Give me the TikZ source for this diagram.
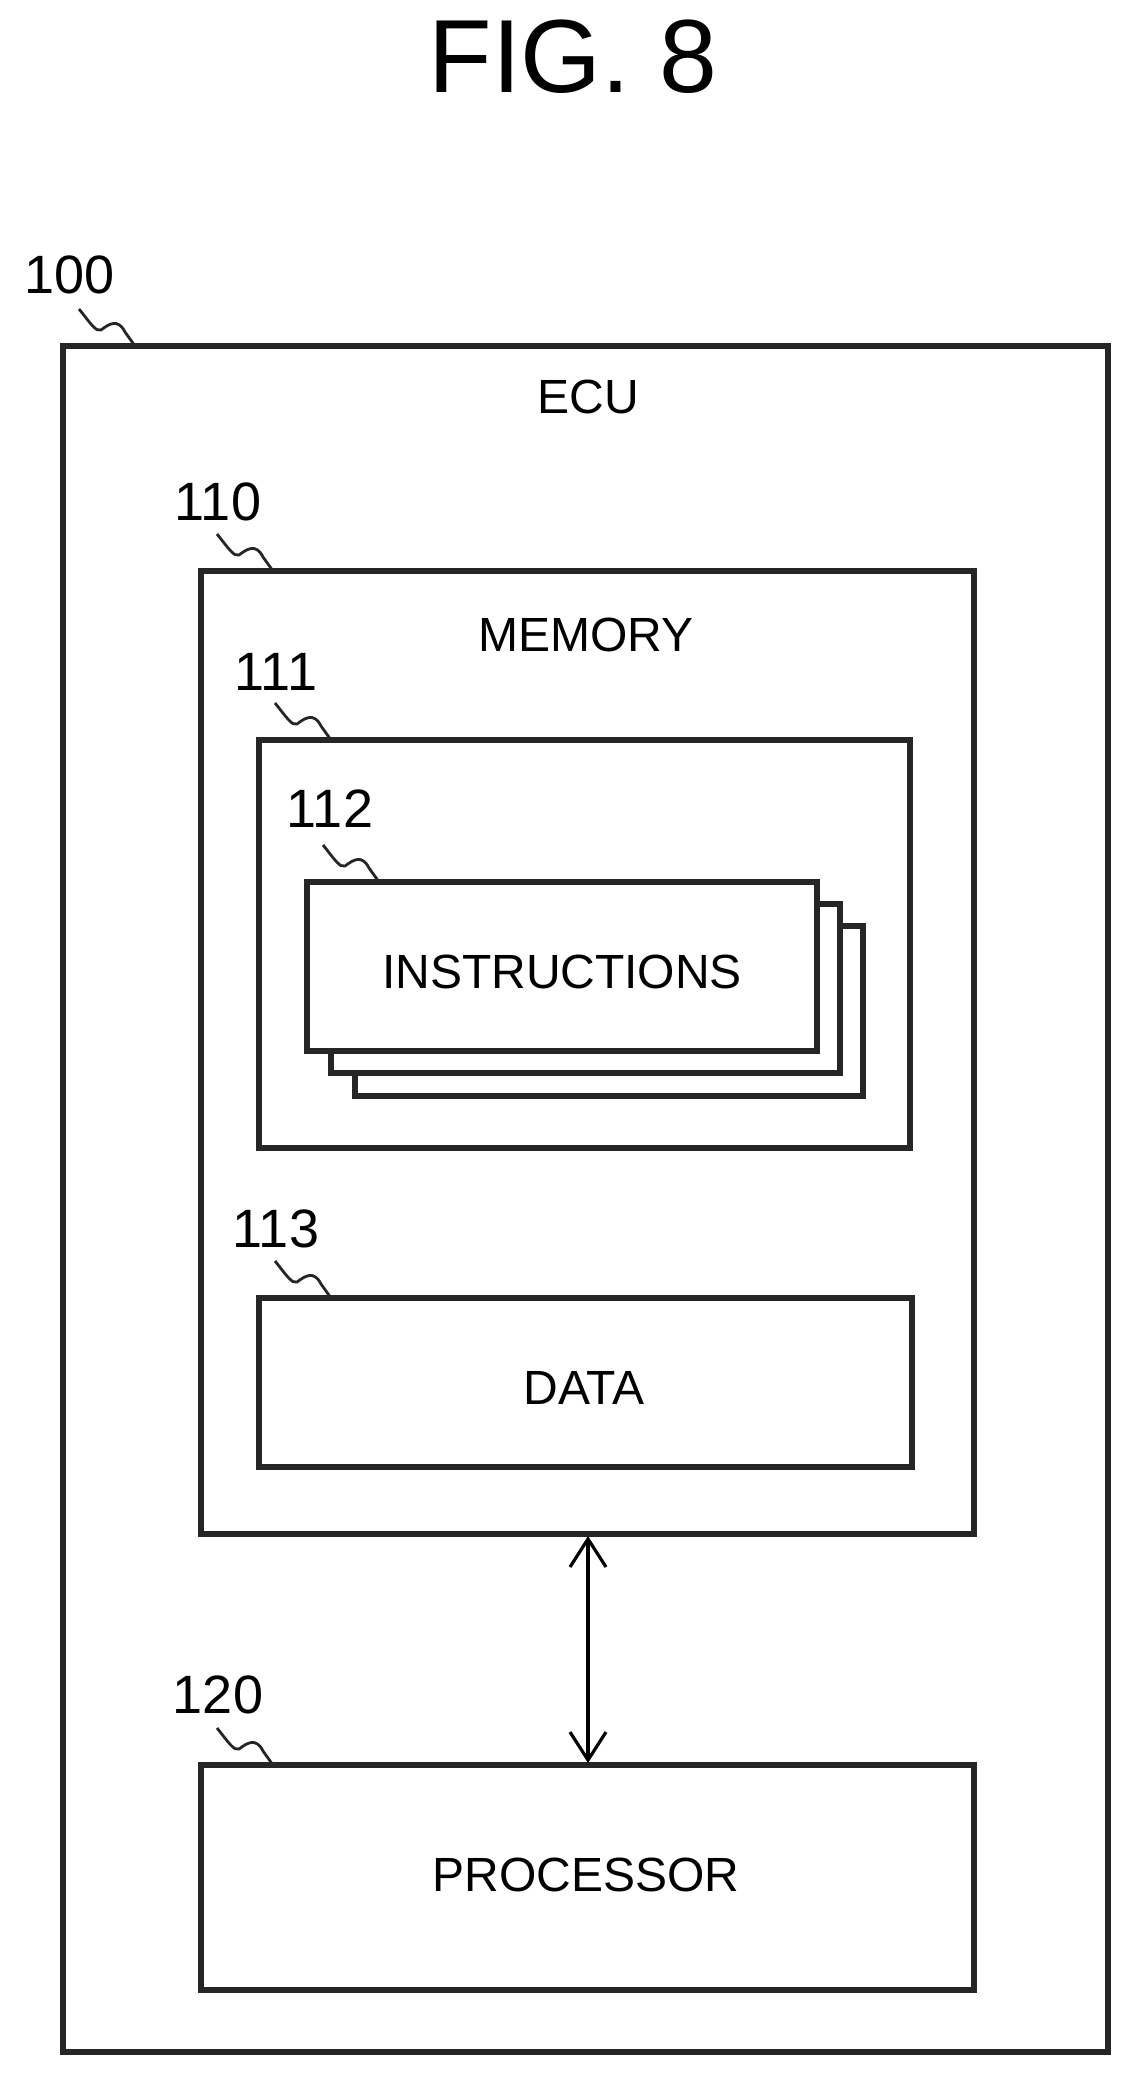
\documentclass[tikz,border=0pt]{standalone}
\usepackage{fontspec}
\setmainfont{Liberation Sans}
\usetikzlibrary{arrows.meta}
\begin{document}
\begin{tikzpicture}[x=0.5pt,y=-0.5pt,
  box/.style={draw=black!85,line width=2.6pt},
  lbl/.style={font=\fontsize{27}{30}\selectfont,anchor=center},
  txt/.style={font=\fontsize{24}{28}\selectfont,anchor=center},
  lead/.style={line width=1.4pt,black!85}]
\useasboundingbox (0,0) rectangle (1137,2082);
\node[font=\fontsize{52}{56}\selectfont] (title) at (573,57) {FIG. 8};
% outer
\draw[box] (63,346) coordinate (c100) rectangle (1108,2052);
\node[lbl] (l100) at (70,275) {100};
\node[txt] (ecu) at (588,397) {ECU};
% memory
\draw[box] (201,571) coordinate (c110) rectangle (974,1534);
\node[lbl] (l110) at (218,502) {110};
\node[txt] (mem) at (586,635) {MEMORY};
% 111
\draw[box] (259,740) coordinate (c111) rectangle (910,1148);
\node[lbl] (l111) at (276,672) {111};
% instructions stack
\draw[box,fill=white] (355,926) rectangle (863,1096);
\draw[box,fill=white] (331,904) rectangle (840,1073);
\draw[box,fill=white] (307,882) coordinate (c112) rectangle (817,1051);
\node[lbl] (l112) at (330,809) {112};
\node[txt] (ins) at (562,972) {INSTRUCTIONS};
% data
\draw[box] (259,1298) coordinate (c113) rectangle (912,1467);
\node[lbl] (l113) at (276,1229) {113};
\node[txt] (data) at (584,1388) {DATA};
% processor
\draw[box] (201,1765) coordinate (c120) rectangle (974,1990);
\node[lbl] (l120) at (218,1695) {120};
\node[txt] (proc) at (586,1875) {PROCESSOR};
% arrow
\coordinate (a1) at (588,1536);
\coordinate (a2) at (588,1763);
\draw[line width=1.6pt,{Straight Barb[length=14pt,width=18pt]}-{Straight Barb[length=14pt,width=18pt]}] (a1) -- (a2);
% leaders
\foreach \c in {c100,c110,c111,c112,c113,c120}{
  \draw[lead] ([shift={(16,-37)}]\c) .. controls ([shift={(28,-22)}]\c) and ([shift={(33,-14)}]\c) .. ([shift={(38,-16)}]\c)
    .. controls ([shift={(46,-22)}]\c) and ([shift={(55,-28)}]\c) .. ([shift={(62,-14)}]\c) -- ([shift={(72,0)}]\c);
}
\end{tikzpicture}
\end{document}
